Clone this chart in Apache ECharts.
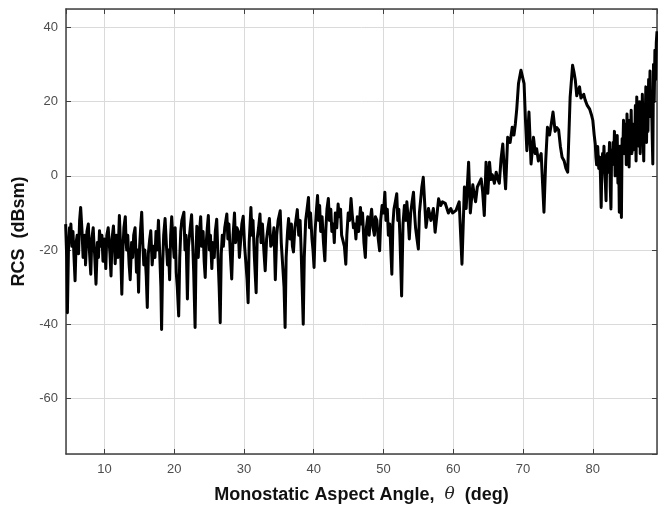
<!DOCTYPE html>
<html>
<head>
<meta charset="utf-8">
<title>Monostatic RCS</title>
<script src="https://cdn.jsdelivr.net/npm/echarts@6/dist/echarts.min.js"></script>
<style>
  html, body { margin: 0; padding: 0; background: #fff; }
  #chart { width: 658px; height: 518px; }
</style>
</head>
<body>
<div id="chart"></div>
<script>
// RCS (dBsm) versus monostatic aspect angle (deg)
const rcs05to21 = [
  [4.45,-13],[4.6,-22],[4.7,-36.9],[4.85,-20],[5.0,-14],[5.1,-17],[5.2,-13],[5.35,-19],[5.5,-15],[5.65,-22],[5.8,-28.3],
  [5.95,-18],[6.1,-16],[6.2,-19],[6.3,-21],[6.45,-12],[6.6,-8.5],[6.8,-15],[6.95,-22],[7.1,-19],[7.2,-16],[7.3,-24],[7.5,-15],
  [7.7,-13],[7.85,-20],[8.05,-26.5],[8.2,-17],[8.4,-14],[8.5,-18],[8.6,-21],[8.8,-29.2],[9.0,-18],[9.15,-22],[9.3,-14.8],
  [9.5,-19],[9.65,-16],[9.8,-23],[10.0,-17],[10.1,-20],[10.2,-25],[10.35,-16],[10.55,-14],[10.8,-21],[10.95,-27],[11.1,-17],
  [11.3,-13.5],[11.45,-19],[11.55,-23.7],[11.75,-16],[11.95,-22],[12.15,-10.7],[12.3,-18],[12.5,-31.9],[12.65,-20],[12.8,-14],
  [13.0,-11],[13.1,-17],[13.2,-20],[13.35,-16],[13.55,-24],[13.7,-28],[13.9,-18],[14.05,-22],[14.2,-16],[14.4,-14],[14.6,-26],
  [14.75,-20],[14.9,-31.4],[15.05,-19],[15.2,-14],[15.35,-9.8],[15.5,-18],[15.65,-24],[15.8,-20],[16.0,-27],[16.15,-35.5],
  [16.3,-21],[16.5,-17],[16.65,-14.8],[16.85,-24],[17.05,-19],[17.25,-22],[17.4,-15],[17.55,-20],[17.75,-12],[17.95,-22],
  [18.1,-30],[18.2,-41.4],[18.35,-24],[18.5,-16],[18.7,-11.5],[18.9,-19],[19.05,-24],[19.2,-20],[19.35,-28],[19.5,-16],
  [19.65,-11],[19.85,-18],[20.0,-22],[20.15,-14],[20.3,-26],[20.45,-30],[20.65,-37.8],[20.8,-22],[20.95,-15],[21.1,-12]
];
const rcs21to39 = [
  [21.4,-9.8],[21.55,-20],[21.7,-16],[21.9,-33.2],[22.05,-19],[22.3,-14],[22.5,-10.5],[22.65,-18],[22.8,-26],[23.0,-40.9],
  [23.15,-20],[23.25,-13.6],[23.45,-22],[23.6,-16],[23.8,-11],[23.95,-19],[24.15,-15],[24.3,-23],[24.45,-27.4],[24.6,-18],
  [24.75,-14],[24.9,-10.7],[25.05,-20],[25.2,-16],[25.4,-25],[25.55,-18],[25.75,-22],[25.9,-15],[26.1,-11.7],[26.25,-20],
  [26.45,-30],[26.6,-39.6],[26.75,-21],[26.9,-16],[27.05,-19],[27.25,-14],[27.55,-10.3],[27.7,-17],[27.85,-13],[28.05,-21],
  [28.25,-27.8],[28.45,-16],[28.65,-10],[28.8,-18],[29.0,-14],[29.2,-15],[29.35,-22],[29.55,-17],[29.7,-13],[29.9,-10.9],
  [30.1,-19],[30.3,-24],[30.45,-28],[30.6,-34.2],[30.75,-18],[31.0,-8.5],[31.15,-16],[31.3,-12],[31.5,-22],[31.75,-31.5],
  [31.9,-17],[32.1,-14],[32.3,-10.3],[32.45,-18],[32.65,-13],[32.85,-20],[33.05,-25.6],[33.25,-17],[33.45,-14],[33.65,-11.5],
  [33.85,-19],[34.1,-18],[34.3,-14],[34.5,-28],[34.7,-16],[34.9,-12],[35.2,-9.4],[35.35,-18],[35.55,-24],[35.75,-30],
  [35.9,-40.9],[36.05,-22],[36.25,-15],[36.4,-11.5],[36.6,-17],[36.8,-13],[36.95,-19],[37.1,-20.5],[37.3,-14],[37.45,-12],
  [37.65,-9.1],[37.85,-16],[38.05,-12],[38.2,-20],[38.35,-30],[38.5,-40],[38.65,-22],[38.85,-12],[39.05,-9],[39.25,-5.8]
];
const rcs39to56 = [
  [39.4,-14],[39.55,-10],[39.75,-17],[39.9,-20],[40.05,-24.7],[40.2,-15],[40.4,-9],[40.55,-5.3],[40.7,-12],[40.85,-8],
  [41.0,-15],[41.2,-11],[41.4,-18],[41.6,-22.9],[41.75,-14],[41.9,-9],[42.1,-6.1],[42.25,-12],[42.45,-9],[42.6,-15],
  [42.8,-13],[42.95,-18],[43.1,-10],[43.3,-14],[43.5,-7.6],[43.65,-11],[43.85,-9],[44.0,-16],[44.2,-15.7],[44.4,-19],
  [44.6,-23.8],[44.75,-16],[44.95,-10],[45.15,-12],[45.35,-6.1],[45.5,-10],[45.7,-14],[45.9,-13],[46.05,-17],[46.25,-11],
  [46.45,-15],[46.7,-8.5],[46.85,-13],[47.0,-10],[47.2,-18],[47.4,-22],[47.55,-14],[47.75,-11],[47.95,-16],[48.1,-12],
  [48.3,-9],[48.5,-14],[48.7,-16],[48.85,-11],[49.05,-12],[49.25,-17],[49.45,-20.2],[49.6,-12],[49.8,-8],[50.0,-10],
  [50.2,-4.4],[50.35,-12],[50.55,-9],[50.7,-16],[50.9,-13],[51.05,-20],[51.2,-26.5],[51.35,-13],[51.5,-9],[51.7,-7],
  [51.9,-4.8],[52.05,-12],[52.2,-9],[52.35,-16],[52.6,-32.4],[52.8,-13],[53.0,-8],[53.2,-12],[53.35,-7],[53.55,-12],
  [53.7,-17],[53.9,-10],[54.1,-7],[54.3,-4.4],[54.45,-10],[54.6,-14],[54.8,-17],[55.0,-19.7],[55.15,-10],[55.35,-6],
  [55.5,-3],[55.7,-0.4]
];
const rcs56to80 = [
  [56.1,-13.9],[56.45,-8.8],[56.8,-12],[57.15,-8.8],[57.4,-15.2],[57.9,-6.2],[58.2,-8],[58.45,-7],[58.85,-7.4],[59.3,-10],
  [59.65,-8.8],[59.9,-10],[60.4,-9.3],[60.85,-7],[61.25,-23.8],[61.6,-3],[61.85,-8.8],[62.2,3.7],[62.45,-10],[62.8,-2.4],
  [63.0,-5],[63.2,-7],[63.45,-3],[63.65,-3],[64.0,-0.8],[64.2,-4],[64.45,-10.7],[64.7,3.7],[64.95,-4.7],[65.2,3.7],
  [65.4,-1],[65.6,0.3],[65.9,-2],[66.15,1],[66.4,-1],[66.6,-2],[66.85,4.6],[67.1,8.6],[67.3,2],[67.5,-3.5],
  [67.8,10.4],[68.15,9],[68.45,13.1],[68.7,11],[68.9,14],[69.1,18],[69.35,24.9],[69.7,28.5],[70.15,24.9],[70.35,15],
  [70.55,6.8],[70.85,17.2],[71.15,3.2],[71.5,10.4],[71.75,6],[71.95,7.3],[72.2,4],[72.4,5],[72.6,6],[72.8,-2],
  [73.0,-9.8],[73.25,4],[73.5,13.1],[73.8,11],[74.05,14],[74.3,17.2],[74.6,12],[74.85,13],[75.1,12.4],[75.35,8],
  [75.6,5],[75.9,4],[76.15,2],[76.4,1],[76.75,21.2],[77.1,29.8],[77.3,28],[77.5,25.7],[77.7,21.6],[77.9,23],
  [78.1,24],[78.3,21],[78.45,20.5],[78.7,22],[78.9,20.5],[79.2,19],[79.55,18],[79.8,16.5],[80.0,15]
];
const rcs80to89 = [
  [80.2,11],[80.35,8.6],[80.45,5],[80.55,3],[80.7,7.9],[80.85,2],[81.0,5],[81.1,0],[81.2,-8.5],[81.3,3],[81.4,6],
  [81.5,2.4],[81.6,8],[81.7,1],[81.8,-2],[81.9,-6.7],[82.0,5],[82.1,6],[82.2,1],[82.3,4],[82.4,9],[82.5,-3],
  [82.6,-8.9],[82.7,7],[82.8,3],[82.9,9],[83.0,4.6],[83.1,12],[83.2,0],[83.3,9],[83.4,5],[83.5,10.9],[83.6,-2],
  [83.7,6],[83.8,-9.8],[83.9,8],[84.0,5],[84.1,-11.2],[84.2,10],[84.3,6],[84.4,15],[84.5,6],[84.6,12],[84.7,14],
  [84.8,3],[84.9,16.7],[85.0,8],[85.1,13],[85.2,2.4],[85.3,15],[85.4,9],[85.5,17.7],[85.6,6],[85.7,14],[85.8,7],
  [85.9,14],[86.0,8],[86.1,19],[86.2,4],[86.3,21.3],[86.4,12],[86.5,18.7],[86.6,8],[86.7,20],[86.8,6],[86.9,20],
  [87.0,10],[87.1,22],[87.2,12],[87.3,4],[87.4,19],[87.5,14],[87.6,24],[87.7,9],[87.8,23],[87.9,12],[88.0,26],
  [88.1,18],[88.2,28.3],[88.3,16],[88.4,22],[88.5,12],[88.6,3.2],[88.7,30],[88.8,20],[88.9,33.9],[89.0,26],
  [89.1,36],[89.2,39]
];
const rcsData = [].concat(rcs05to21, rcs21to39, rcs39to56, rcs56to80, rcs80to89);

const xRange = [4.5, 89.2];
const yRange = [-75, 45];

const axisColor = '#404040';
const labelFont = 'Arial, "Liberation Sans", Helvetica, sans-serif';

const chart = echarts.init(document.getElementById('chart'));

const option = {
  animation: false,
  backgroundColor: '#fff',
  grid: { left: 66, right: 1, top: 9, bottom: 64 },
  xAxis: [
    {
      type: 'value',
      min: xRange[0],
      max: xRange[1],
      minInterval: 10,
      maxInterval: 10,
      position: 'bottom',
      axisLine: { onZero: false, lineStyle: { color: axisColor, width: 1.5 } },
      axisTick: { inside: true, length: 5, lineStyle: { color: axisColor } },
      axisLabel: {
        color: '#4d4d4d',
        fontSize: 13,
        fontFamily: labelFont,
        margin: 9,
        showMinLabel: false,
        showMaxLabel: false,
        formatter: v => (v % 10 === 0 ? String(v) : '')
      },
      splitLine: { show: true, lineStyle: { color: '#dadada', width: 1 } },
      name: '{a|Monostatic Aspect Angle,  }{t|θ}{a|  (deg)}',
      nameLocation: 'middle',
      nameGap: 32,
      nameTextStyle: {
        rich: {
          a: { fontSize: 18, fontWeight: 'bold', color: '#111', fontFamily: labelFont },
          t: { fontSize: 17, fontStyle: 'italic', color: '#222', fontFamily: '"DejaVu Serif", serif' }
        }
      }
    },
    {
      type: 'value',
      min: xRange[0],
      max: xRange[1],
      minInterval: 10,
      maxInterval: 10,
      position: 'top',
      axisLine: { onZero: false, lineStyle: { color: axisColor, width: 1.5 } },
      axisTick: { inside: true, length: 5, lineStyle: { color: axisColor } },
      axisLabel: { show: false },
      splitLine: { show: false }
    }
  ],
  yAxis: [
    {
      type: 'value',
      min: yRange[0],
      max: yRange[1],
      minInterval: 20,
      maxInterval: 20,
      position: 'left',
      axisLine: { show: true, onZero: false, lineStyle: { color: axisColor, width: 1.5 } },
      axisTick: { show: true, inside: true, length: 5, lineStyle: { color: axisColor } },
      axisLabel: {
        color: '#4d4d4d',
        fontSize: 13,
        fontFamily: labelFont,
        margin: 8,
        showMinLabel: false,
        showMaxLabel: false,
        formatter: v => (v % 20 === 0 ? String(v) : '')
      },
      splitLine: { show: true, lineStyle: { color: '#dadada', width: 1 } },
      name: 'RCS  (dBsm)',
      nameLocation: 'middle',
      nameGap: 32,
      nameTextStyle: { fontSize: 18, fontWeight: 'bold', color: '#111', fontFamily: labelFont }
    },
    {
      type: 'value',
      min: yRange[0],
      max: yRange[1],
      minInterval: 20,
      maxInterval: 20,
      position: 'right',
      axisLine: { show: true, onZero: false, lineStyle: { color: axisColor, width: 1.5 } },
      axisTick: { show: true, inside: true, length: 5, lineStyle: { color: axisColor } },
      axisLabel: { show: false },
      splitLine: { show: false }
    }
  ],
  series: [
    {
      name: 'RCS',
      type: 'line',
      xAxisIndex: 0,
      yAxisIndex: 0,
      data: rcsData,
      showSymbol: false,
      symbol: 'none',
      lineStyle: { color: '#000', width: 3, join: 'round' },
      clip: true
    }
  ]
};

chart.setOption(option);
</script>
</body>
</html>
